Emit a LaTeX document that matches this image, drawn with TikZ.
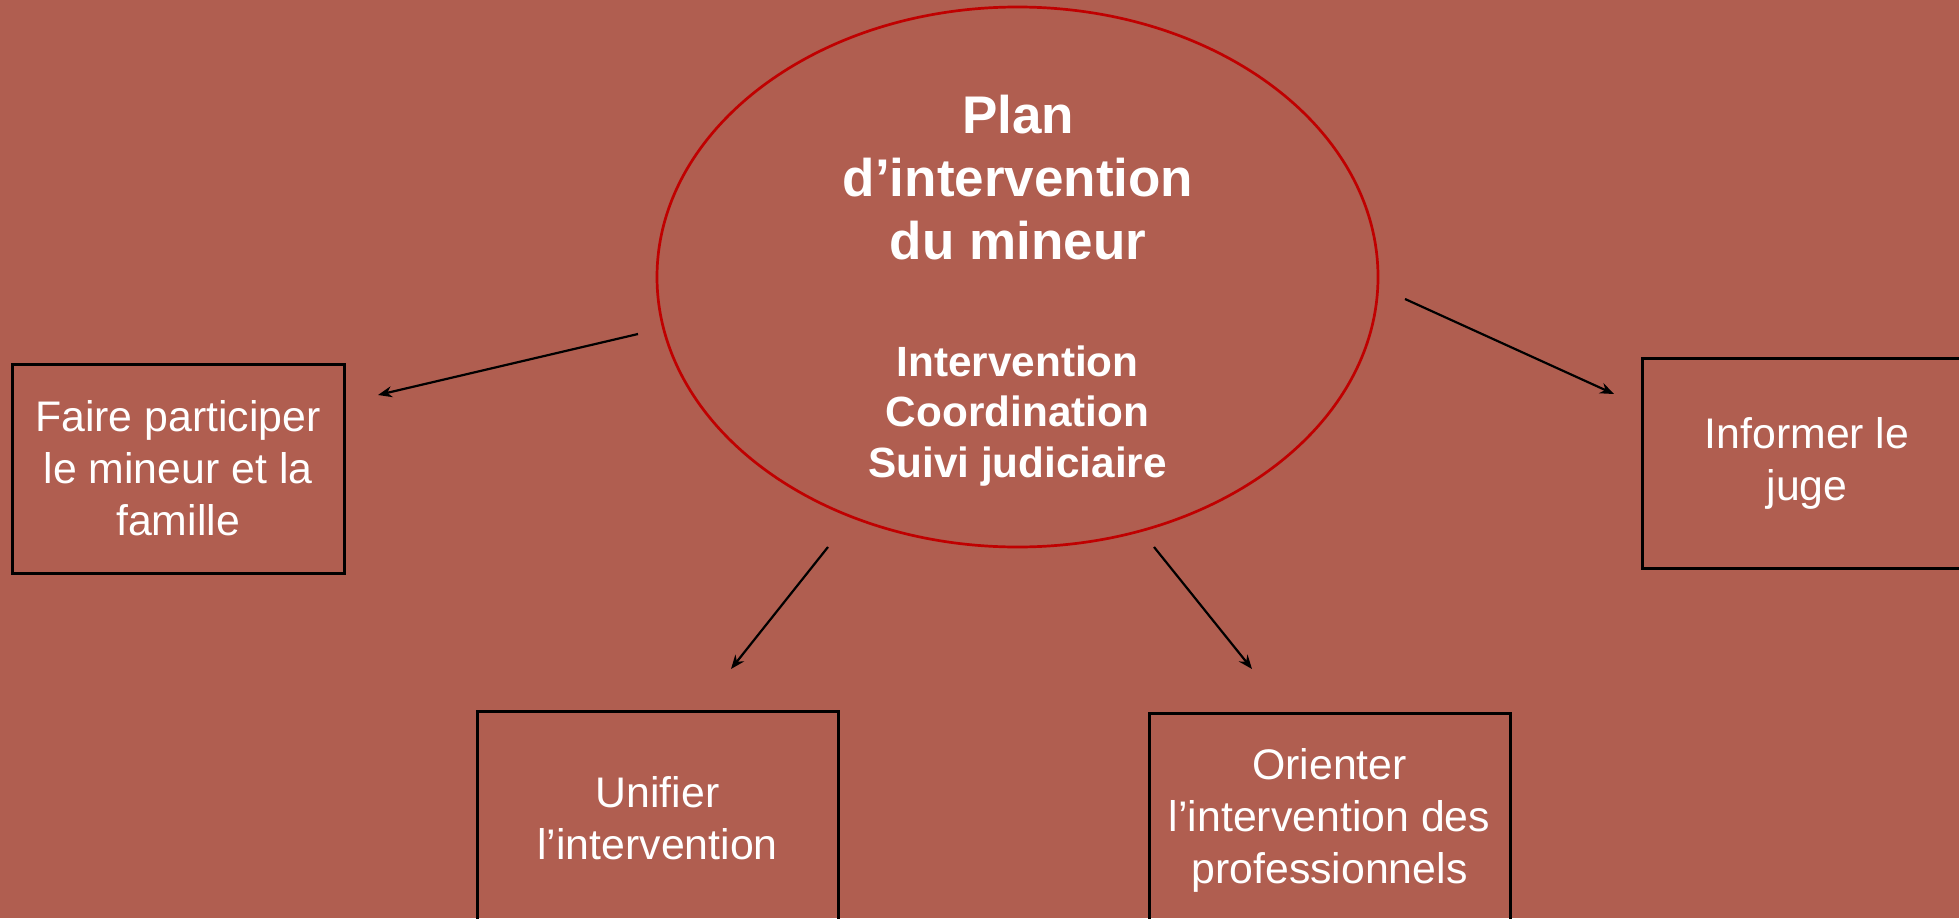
\documentclass[tikz,border=0pt]{standalone}
\usepackage{fontspec}
\setmainfont{Liberation Sans}
\usetikzlibrary{arrows.meta,shapes.geometric}
\definecolor{bgbrick}{RGB}{176,94,80}
\definecolor{ellred}{RGB}{192,0,0}
\tikzset{
  box/.style={draw=black, line width=3pt, rectangle, inner sep=0pt, text=white, align=center,
    font=\fontsize{42.8}{52}\selectfont},
  titletext/.style={text=white, align=center, inner sep=0pt, font=\bfseries\fontsize{53}{63}\selectfont},
  subtext/.style={text=white, align=center, inner sep=0pt, font=\bfseries\fontsize{42.3}{50.5}\selectfont},
  ell/.style={draw=ellred, line width=2.7pt, ellipse, inner sep=0pt},
  link/.style={draw=black, line width=2.2pt, -{Stealth[length=14pt,width=11pt]}}
}
\begin{document}
\begin{tikzpicture}[x=1pt,y=-1pt]
\useasboundingbox (0,0) rectangle (1959,918);
\fill[bgbrick] (0,0) rectangle (1959,918);
\clip (0,0) rectangle (1959,918);

\node[ell, minimum width=721pt, minimum height=540pt] (plan) at (1017.5,277) {};
\node[titletext] (title) at (1018,178) {Plan\\d’intervention\\du mineur};
\node[subtext] (sub) at (1017.5,416) {Intervention\\Coordination\\Suivi judiciaire};

\node[box, minimum width=332pt, minimum height=209pt] (famille) at (178,468.5) {Faire participer\\le mineur et la\\famille};
\node[box, minimum width=330pt, minimum height=210pt] (juge) at (1807,463) {Informer le\\juge};
\node[box, minimum width=361pt, minimum height=214pt] (unifier) at (657.5,818) {Unifier\\l’intervention};
\node[box, minimum width=361pt, minimum height=214pt] (orienter) at (1329.5,820) {Orienter\\l’intervention des\\professionnels};

\coordinate (s1) at (638,334);
\coordinate (t1) at (378,395);
\coordinate (s2) at (1405,299);
\coordinate (t2) at (1614,394);
\coordinate (s3) at (828,547);
\coordinate (t3) at (731,669);
\coordinate (s4) at (1154,547);
\coordinate (t4) at (1252,669);

\draw[link] (s1) -- (t1);
\draw[link] (s2) -- (t2);
\draw[link] (s3) -- (t3);
\draw[link] (s4) -- (t4);
\end{tikzpicture}
\end{document}
